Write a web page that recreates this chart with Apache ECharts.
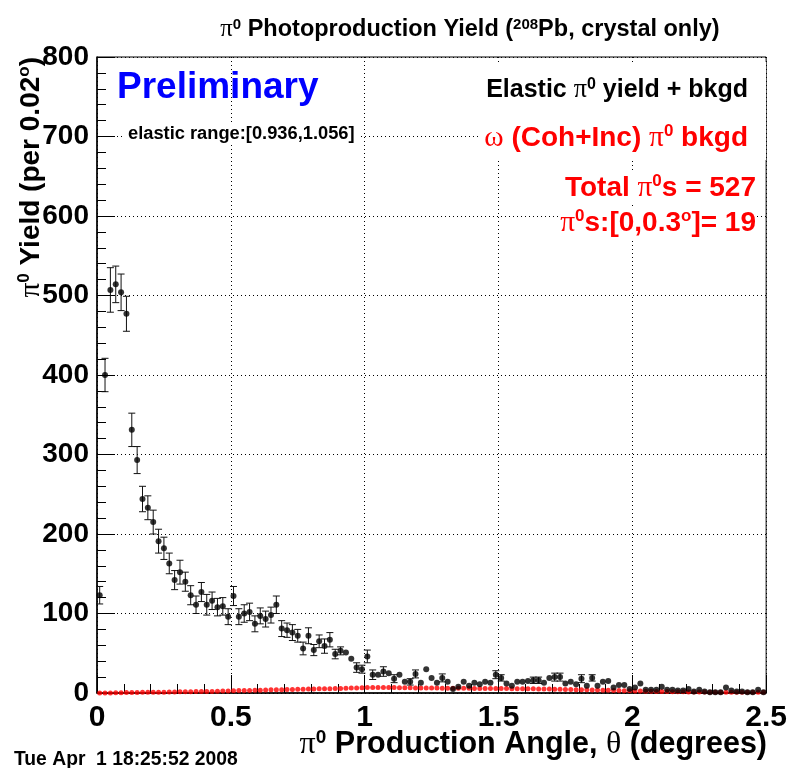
<!DOCTYPE html>
<html><head><meta charset="utf-8">
<script src="https://cdn.jsdelivr.net/npm/echarts@6/dist/echarts.min.js"></script>
<style>html,body{margin:0;padding:0;background:#fff}#c{width:790px;height:768px}</style>
</head><body><div id="c"></div>
<script>
// histogram binning (degrees)
const binWidth = 0.02;
const xTickLabels = ['0', '0.5', '1', '1.5', '2', '2.5'];
const yTickLabels = ['0', '100', '200', '300', '400', '500', '600', '700', '800'];

// Elastic pi0 yield + bkgd (per 0.02 deg bin)
const yieldValues = [
  123, 400, 507, 514, 504, 477, 331, 293, 244, 233,
  215, 191, 182, 163, 142, 152, 140, 123, 111, 127,
  111, 116, 108, 109, 96, 122, 96, 100, 102, 87,
  97, 93, 98, 111, 81, 79, 76, 72, 56, 72,
  54, 65, 59, 67, 49, 53, 51, 43, 32, 30,
  46, 23, 23, 27, 25, 18, 23, 14, 14, 24,
  13, 30, 19, 13, 19, 14, 5, 8, 14, 9,
  13, 11, 14, 13, 23, 19, 12, 9, 14, 14,
  15, 16, 16, 13, 19, 20, 20, 12, 14, 11,
  18, 9, 19, 9, 14, 15, 7, 10, 10, 5,
  7, 12, 4, 4, 4, 8, 4, 4, 3, 3,
  5, 2, 4, 2, 1, 1, 1, 7, 3, 2,
  2, 1, 1, 4, 1
];
const yieldErrors = [
  11, 21, 28, 23, 23, 22, 21, 17, 16, 15,
  15, 15, 14, 13, 12, 15, 12, 12, 11, 12,
  13, 11, 11, 11, 10, 12, 10, 11, 11, 10,
  10, 10, 10, 11, 10, 9, 10, 8, 8, 10,
  7, 8, 9, 9, 6, 5, 2, 2, 6, 5,
  8, 6, 2, 6, 2, 5, 2, 2, 4, 5,
  2, 2, 2, 2, 5, 2, 2, 2, 2, 2,
  2, 2, 2, 2, 5, 4, 2, 2, 2, 2,
  2, 4, 4, 2, 2, 5, 5, 2, 2, 2,
  5, 2, 4, 2, 2, 2, 2, 2, 2, 2,
  2, 2, 2, 2, 2, 2, 2, 2, 2, 2,
  2, 2, 2, 2, 2, 2, 2, 2, 2, 2,
  2, 2, 2, 2, 2
];
// omega (Coh+Inc) pi0 bkgd
const bkgdValues = [
  0, 0, 0, 0.3, 0.3, 0.5, 0.5, 0.5, 0.8, 0.8,
  1, 1, 1, 1.2, 1.2, 1.5, 1.5, 1.5, 1.8, 1.8,
  2, 2, 2.2, 2.5, 2.5, 2.8, 3, 3, 3.2, 3.5,
  3.6, 3.8, 4, 4, 4.2, 4.4, 4.5, 4.6, 4.8, 5,
  5, 5.2, 5.4, 5.5, 5.6, 5.8, 6, 6.2, 6.4, 6.6,
  6.8, 7, 7, 7, 6.8, 6.8, 6.6, 6.6, 6.5, 6.4,
  6.4, 6.3, 6.2, 6.2, 6.1, 6, 6, 6, 5.9, 5.9,
  5.8, 5.8, 5.8, 5.7, 5.7, 5.6, 5.6, 5.5, 5.5, 5.4,
  5.3, 5.2, 5.1, 5, 4.9, 4.8, 4.7, 4.5, 4.4, 4.2,
  4.1, 4, 3.8, 3.7, 3.5, 3.4, 3.2, 3, 2.8, 2.7,
  2.5, 2.4, 2.2, 2.1, 2, 1.9, 1.8, 1.7, 1.6, 1.5,
  1.4, 1.3, 1.2, 1.2, 1.1, 1.1, 1, 1, 1, 0.9,
  0.9, 0.9, 0.8, 0.8, 0.8
];

const center = i => +(binWidth * (i + 0.5)).toFixed(4);
const yieldData = yieldValues.map((v, i) => [center(i), v]);
const errData = yieldValues.map((v, i) => [center(i), v - yieldErrors[i], v + yieldErrors[i]]);
const bkgdData = bkgdValues.map((v, i) => [center(i), v]);

const SANS = 'Liberation Sans, Arial, sans-serif';
const SERIF = 'Liberation Serif, Times New Roman, serif';
function richSet(size, color) {
  return {
    n: { fontFamily: SANS, fontWeight: 'bold', fontSize: size, color: color },
    pi: { fontFamily: SERIF, fontWeight: 'normal', fontSize: size * 1.05, color: color },
    sup: { fontFamily: SANS, fontWeight: 'bold', fontSize: Math.round(size * 0.62), color: color, verticalAlign: 'top', padding: [0, 0, Math.round(size * 0.45), 0] }
  };
}
function txt(x, y, text, size, color, align, extra) {
  const st = Object.assign({
    text: text, x: 0, y: 0, rich: richSet(size, color), align: align, verticalAlign: 'middle',
    fontFamily: SANS, fontWeight: 'bold', fontSize: size, fill: color
  }, extra || {});
  return { type: 'text', x: x, y: y, z: 20, style: st };
}

const chart = echarts.init(document.getElementById('c'), null, { renderer: 'canvas' });
chart.setOption({
  animation: false,
  backgroundColor: '#fff',
  grid: { left: 97, right: 23, top: 57, bottom: 75, show: true, borderColor: '#000', borderWidth: 1, backgroundColor: 'transparent' },
  xAxis: {
    type: 'value', min: 0, max: 2.5, interval: 0.5,
    axisLine: { show: true, onZero: false, lineStyle: { color: '#000', width: 1.5 } },
    axisTick: { show: true, inside: true, length: 18, lineStyle: { color: '#000' } },
    minorTick: { show: true, splitNumber: 5, length: 9, lineStyle: { color: '#000' } },
    splitLine: { show: true, lineStyle: { color: '#000', type: [1, 3], width: 1 } },
    axisLabel: {
      margin: 10, fontSize: 30, fontWeight: 'bold', fontFamily: SANS, color: '#000',
      formatter: v => xTickLabels[Math.round(v / 0.5)]
    }
  },
  yAxis: {
    type: 'value', min: 0, max: 800, interval: 100,
    axisLine: { show: true, onZero: false, lineStyle: { color: '#000', width: 1.5 } },
    axisTick: { show: true, inside: true, length: 18, lineStyle: { color: '#000' } },
    minorTick: { show: true, splitNumber: 5, length: 9, lineStyle: { color: '#000' } },
    splitLine: { show: true, lineStyle: { color: '#000', type: [1, 3], width: 1 } },
    axisLabel: {
      margin: 8, fontSize: 28, fontWeight: 'bold', fontFamily: SANS, color: '#000',
      formatter: v => yTickLabels[Math.round(v / 100)]
    }
  },
  series: [
    {
      type: 'scatter', name: 'bkgd', data: bkgdData, symbol: 'circle', symbolSize: 5,
      itemStyle: { color: '#ff0000' }, z: 2, silent: true
    },
    {
      type: 'custom', name: 'err', data: errData, z: 3, silent: true,
      renderItem: function (params, api) {
        const x = api.value(0);
        const pTop = api.coord([x, api.value(2)]);
        const pBot = api.coord([x, api.value(1)]);
        if ((pBot[1] - pTop[1]) / 2 < 3) return null;
        const hw = 3.5;
        const st = { stroke: '#111', lineWidth: 1 };
        return {
          type: 'group', children: [
            { type: 'line', shape: { x1: pTop[0], y1: pTop[1], x2: pBot[0], y2: pBot[1] }, style: st },
            { type: 'line', shape: { x1: pTop[0] - hw, y1: pTop[1], x2: pTop[0] + hw, y2: pTop[1] }, style: st },
            { type: 'line', shape: { x1: pBot[0] - hw, y1: pBot[1], x2: pBot[0] + hw, y2: pBot[1] }, style: st }
          ]
        };
      }
    },
    {
      type: 'scatter', name: 'yield', data: yieldData, symbol: 'circle', symbolSize: 6,
      itemStyle: { color: '#000' }, z: 4, silent: true
    }
  ],
  graphic: [
    txt(470, 30, '{pi|π}{sup|0}{n| Photoproduction Yield (}{sup|208}{n|Pb, crystal only)}', 23.5, '#000', 'center'),
    {
      type: 'text', x: 31, y: 57, rotation: Math.PI / 2, z: 20,
      style: {
        text: '{pi|π}{sup|0}{n| Yield (per 0.02}{sup|o}{n|)}', rich: richSet(28, '#000'),
        align: 'right', verticalAlign: 'middle', fontFamily: SANS, fontWeight: 'bold', fontSize: 28, fill: '#000'
      }
    },
    txt(767, 745, '{pi|π}{sup|0}{n| Production Angle, }{pi|θ}{n| (degrees)}', 30.5, '#000', 'right'),
    txt(14, 760, 'Tue Apr  1 18:25:52 2008', 19.3, '#000', 'left'),
    txt(117, 88, 'Preliminary', 37, '#0000ff', 'left'),
    txt(124, 134, 'elastic range:[0.936,1.056]', 18.3, '#000', 'left', { backgroundColor: '#fff', padding: [2, 4, 2, 4] }),
    { type: 'rect', z: 15, shape: { x: 481, y: 62, width: 285, height: 98 }, style: { fill: '#fff' } },
    txt(748, 90, '{n|Elastic }{pi|π}{sup|0}{n| yield + bkgd}', 25, '#000', 'right'),
    txt(748, 138, '{pi|ω}{n| (Coh+Inc) }{pi|π}{sup|0}{n| bkgd}', 28, '#ff0000', 'right'),
    txt(756, 188, '{n|Total }{pi|π}{sup|0}{n|s = 527}', 28, '#ff0000', 'right', { backgroundColor: '#fff' }),
    txt(756, 223, '{pi|π}{sup|0}{n|s:[0,0.3}{sup|o}{n|]= 19}', 28, '#ff0000', 'right', { backgroundColor: '#fff' })
  ]
});
</script></body></html>
